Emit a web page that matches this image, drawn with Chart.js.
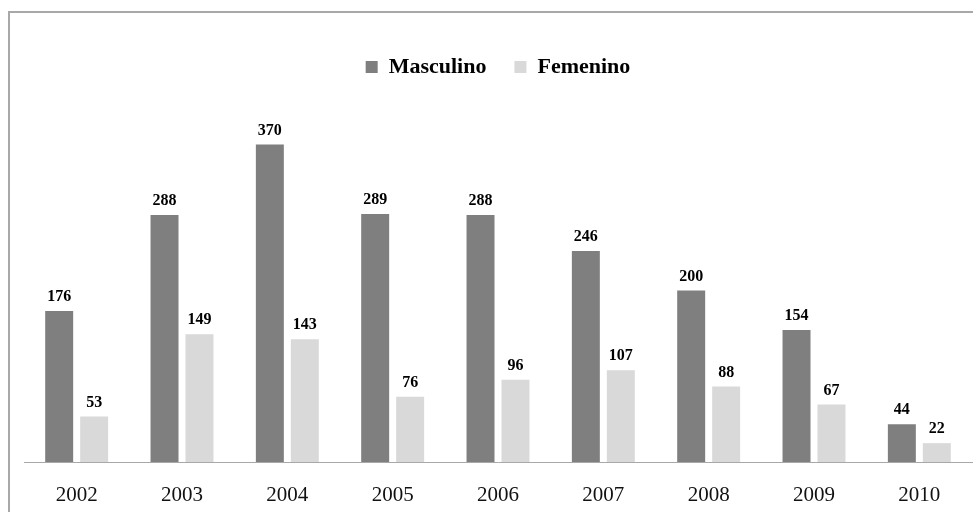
<!DOCTYPE html>
<html>
<head>
<meta charset="utf-8">
<script src="https://cdn.jsdelivr.net/npm/chart.js@4/dist/chart.umd.min.js"></script>
<style>
  body { margin: 0; background: #fff; }
  #wrap { position: relative; width: 973px; height: 512px; overflow: hidden; }
  #frame { position: absolute; left: 8px; top: 11px; width: 1000px; height: 600px;
           border-left: 2px solid #a8a8a8; border-top: 2px solid #a8a8a8; }
  canvas { position: absolute; left: 0; top: 0; }
</style>
</head>
<body>
<div id="wrap">
  <div id="frame"></div>
  <canvas id="chart" width="973" height="512"></canvas>
</div>
<script>
// Data
const years = ['2002', '2003', '2004', '2005', '2006', '2007', '2008', '2009', '2010'];
const masculino = [176, 288, 370, 289, 288, 246, 200, 154, 44];
const femenino = [53, 149, 143, 76, 96, 107, 88, 67, 22];

const serif = "'Liberation Serif', 'DejaVu Serif', serif";

// Value labels above each bar
const valueLabels = {
  id: 'valueLabels',
  afterDatasetsDraw(chart) {
    const ctx = chart.ctx;
    ctx.save();
    ctx.font = 'bold 16px ' + serif;
    ctx.fillStyle = '#000';
    ctx.textAlign = 'center';
    ctx.textBaseline = 'bottom';
    chart.data.datasets.forEach((ds, i) => {
      chart.getDatasetMeta(i).data.forEach((bar, j) => {
        ctx.fillText(ds.data[j], bar.x, bar.y - 6);
      });
    });
    ctx.restore();
  }
};

new Chart(document.getElementById('chart'), {
  type: 'bar',
  data: {
    labels: years,
    datasets: [
      { label: 'Masculino', data: masculino, backgroundColor: '#7f7f7f' },
      { label: 'Femenino', data: femenino, backgroundColor: '#d9d9d9' }
    ]
  },
  options: {
    responsive: false,
    animation: false,
    categoryPercentage: 0.664,
    barPercentage: 0.8,
    layout: { padding: { left: 24, right: 1, top: 28, bottom: 7 } },
    plugins: {
      legend: {
        position: 'top',
        labels: {
          boxWidth: 12,
          boxHeight: 12,
          padding: 28,
          color: '#000',
          font: { family: serif, size: 22, weight: 'bold' }
        }
      },
      tooltip: { enabled: false }
    },
    scales: {
      x: {
        grid: { display: false },
        border: { color: '#a8a8a8', width: 1 },
        ticks: { color: '#111', padding: 13, font: { family: serif, size: 21 } },
        afterFit(scale) { scale.height = 43; }
      },
      y: {
        display: false,
        min: 0,
        max: 436
      }
    }
  },
  plugins: [valueLabels]
});
</script>
</body>
</html>
